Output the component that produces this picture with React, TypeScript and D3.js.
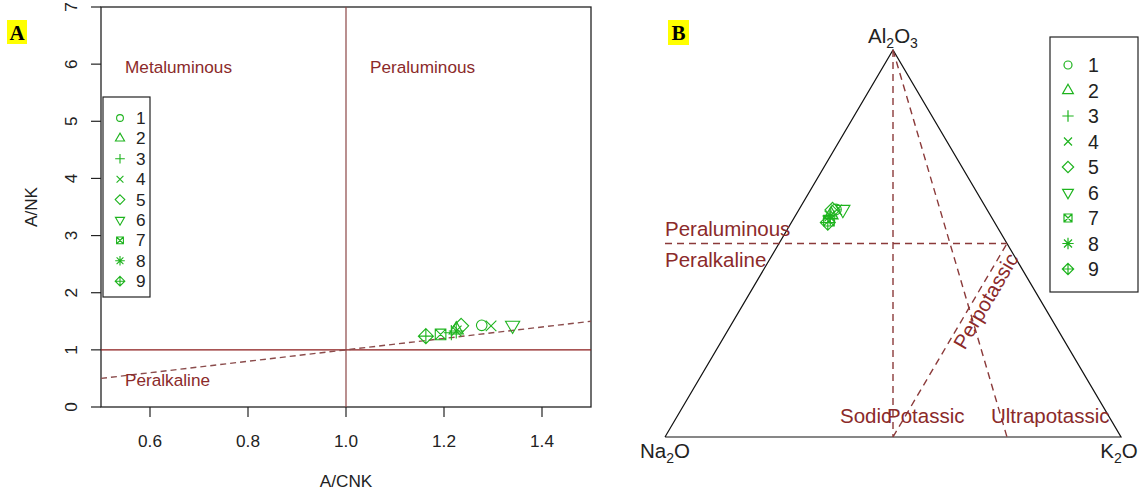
import React from "react";
import * as d3 from "d3";

// ---------- DATA ----------
const sampleIds = [1, 2, 3, 4, 5, 6, 7, 8, 9];
// Panel A: Shand diagram
const acnk = [1.277, 1.225, 1.215, 1.296, 1.235, 1.34, 1.193, 1.225, 1.163];
const ank = [1.43, 1.35, 1.3, 1.42, 1.42, 1.43, 1.27, 1.33, 1.24];
// Panel B: molar ternary proportions
const al2o3 = [0.588, 0.574, 0.565, 0.587, 0.587, 0.588, 0.559, 0.571, 0.554];
const k2o = [0.081, 0.077, 0.08, 0.083, 0.074, 0.096, 0.08, 0.076, 0.08];
const na2o = al2o3.map((a, i) => 1 - a - k2o[i]);

const xTicksA = [0.6, 0.8, 1.0, 1.2, 1.4];
const yTicksA = [0, 1, 2, 3, 4, 5, 6, 7];

const GREEN = "#1DB31D";
const DARKRED = "#8B2A2A";
const FONT = "Liberation Sans, Arial, sans-serif";
const FS_A = 17.2;
const FS_B = 20.5;

function Marker({ pch, x, y, r, color = GREEN, sw = 1.1 }: { pch: number; x: number; y: number; r: number; color?: string; sw?: number }) {
  const s2 = Math.SQRT2 * r;
  const tr = 1.55 * r;
  const common = { fill: "none", stroke: color, strokeWidth: sw };
  const triUp = `M${x},${y - tr}L${x + tr * 0.866},${y + tr / 2}L${x - tr * 0.866},${y + tr / 2}Z`;
  const triDown = `M${x},${y + tr}L${x + tr * 0.866},${y - tr / 2}L${x - tr * 0.866},${y - tr / 2}Z`;
  const plus = (h: number) => `M${x - h},${y}L${x + h},${y}M${x},${y - h}L${x},${y + h}`;
  const cross = (h: number) => `M${x - h},${y - h}L${x + h},${y + h}M${x - h},${y + h}L${x + h},${y - h}`;
  const diamond = (h: number) => `M${x},${y - h}L${x + h},${y}L${x},${y + h}L${x - h},${y}Z`;
  const square = (h: number) => `M${x - h},${y - h}L${x + h},${y - h}L${x + h},${y + h}L${x - h},${y + h}Z`;
  switch (pch) {
    case 1:
      return <circle cx={x} cy={y} r={r} {...common} />;
    case 2:
      return <path d={triUp} {...common} />;
    case 3:
      return <path d={plus(s2)} {...common} />;
    case 4:
      return <path d={cross(r)} {...common} />;
    case 5:
      return <path d={diamond(s2)} {...common} />;
    case 6:
      return <path d={triDown} {...common} />;
    case 7:
      return <path d={square(r) + cross(r)} {...common} />;
    case 8:
      return <path d={cross(r) + plus(s2)} {...common} />;
    case 9:
      return <path d={diamond(s2) + plus(s2)} {...common} />;
    default:
      return null;
  }
}

function PanelA() {
  const x = d3.scaleLinear().domain([0.5, 1.5]).range([101, 591]);
  const y = d3.scaleLinear().domain([0, 7]).range([407, 7]);
  const lineFn = d3.line<number>().x((d) => x(d)).y((d) => y(d));
  return (
    <g fontFamily={FONT}>
      <rect x={x(0.5)} y={y(7)} width={x(1.5) - x(0.5)} height={y(0) - y(7)} fill="none" stroke="#222" strokeWidth={1.3} />
      {xTicksA.map((t) => (
        <g key={t}>
          <line x1={x(t)} x2={x(t)} y1={y(0)} y2={y(0) + 10} stroke="#222" strokeWidth={1.2} />
          <text x={x(t)} y={y(0) + 40} textAnchor="middle" fontSize={FS_A} fill="#222">
            {t.toFixed(1)}
          </text>
        </g>
      ))}
      {yTicksA.map((t) => (
        <g key={t}>
          <line x1={x(0.5) - 10} x2={x(0.5)} y1={y(t)} y2={y(t)} stroke="#222" strokeWidth={1.2} />
          <text transform={`translate(${x(0.5) - 24},${y(t)}) rotate(-90)`} textAnchor="middle" fontSize={FS_A} fill="#222">
            {t}
          </text>
        </g>
      ))}
      <text x={x(1.0)} y={487} textAnchor="middle" fontSize={FS_A} fill="#222">A/CNK</text>
      <text transform={`translate(37,${y(3.5)}) rotate(-90)`} textAnchor="middle" fontSize={FS_A} fill="#222">A/NK</text>

      <line x1={x(0.5)} x2={x(1.5)} y1={y(1)} y2={y(1)} stroke="#8B1A1A" strokeWidth={1.3} />
      <line x1={x(1)} x2={x(1)} y1={y(0)} y2={y(7)} stroke="#8B4545" strokeWidth={1.2} />
      <path d={lineFn([0.5, 1.5]) || ""} stroke="#8B4C4C" strokeWidth={1.4} strokeDasharray="6,4" fill="none" />

      <text x={125} y={73} fontSize={FS_A} fill={DARKRED}>Metaluminous</text>
      <text x={370} y={73} fontSize={FS_A} fill={DARKRED}>Peraluminous</text>
      <text x={125} y={386} fontSize={FS_A} fill={DARKRED}>Peralkaline</text>

      {sampleIds.map((id, i) => (
        <Marker key={id} pch={id} x={x(acnk[i])} y={y(ank[i])} r={5.3} />
      ))}

      <rect x={103} y={97} width={47} height={200} fill="white" stroke="#222" strokeWidth={1.2} />
      {sampleIds.map((id, i) => (
        <g key={id}>
          <Marker pch={id} x={120} y={118 + i * 20.4} r={3.4} />
          <text x={136} y={118 + i * 20.4 + 6} fontSize={FS_A} fill="#222">{id}</text>
        </g>
      ))}

      <rect x={7} y={20} width={20} height={24} fill="#FFFF00" />
      <text x={17} y={40} textAnchor="middle" fontFamily="Liberation Serif, Times New Roman, serif" fontWeight="bold" fontSize={21} fill="#000">A</text>
    </g>
  );
}

function PanelB() {
  // ternary projection: X = K + Al/2 (0..1), Y = Al (0..1)
  const X = d3.scaleLinear().domain([0, 1]).range([665, 1121]);
  const Y = d3.scaleLinear().domain([0, 1]).range([437, 50]);
  const proj = (a: number, k: number): [number, number] => [X(k + a / 2), Y(a)];
  const line = d3.line<[number, number]>().x((d) => X(d[0])).y((d) => Y(d[1]));
  const tri = line([[0, 0], [1, 0], [0.5, 1], [0, 0]]) || "";
  const dashed: [number, number][][] = [
    [[0, 0.5], [0.75, 0.5]],
    [[0.5, 1], [0.5, 0]],
    [[0.5, 1], [0.75, 0]],
    [[0.5, 0], [0.75, 0.5]],
  ];
  const p0 = [X(0.5), Y(0)];
  const p1 = [X(0.75), Y(0.5)];
  const len = Math.hypot(p1[0] - p0[0], p1[1] - p0[1]);
  const dir = [(p1[0] - p0[0]) / len, (p1[1] - p0[1]) / len];
  const perp = [-dir[1], dir[0]];
  const ang = (Math.atan2(dir[1], dir[0]) * 180) / Math.PI;
  const mid = [(p0[0] + p1[0]) / 2, (p0[1] + p1[1]) / 2];
  const tx = mid[0] + 52 * dir[0] + 18 * perp[0];
  const ty = mid[1] + 52 * dir[1] + 18 * perp[1];
  return (
    <g fontFamily={FONT}>
      <path d={tri} fill="none" stroke="#111" strokeWidth={1.2} />
      {dashed.map((seg, i) => (
        <path key={i} d={line(seg) || ""} fill="none" stroke="#8B3A3A" strokeWidth={1.4} strokeDasharray="7,5" />
      ))}
      <text x={X(0.5)} y={43} textAnchor="middle" fontSize={FS_B} fill="#222">
        Al<tspan fontSize={14} dy={5}>2</tspan><tspan dy={-5}>O</tspan><tspan fontSize={14} dy={5}>3</tspan>
      </text>
      <text x={X(0)} y={458} textAnchor="middle" fontSize={FS_B} fill="#222">
        Na<tspan fontSize={14} dy={5}>2</tspan><tspan dy={-5}>O</tspan>
      </text>
      <text x={X(1) - 2} y={458} textAnchor="middle" fontSize={FS_B} fill="#222">
        K<tspan fontSize={14} dy={5}>2</tspan><tspan dy={-5}>O</tspan>
      </text>

      <text x={665} y={236} fontSize={FS_B} fill={DARKRED}>Peraluminous</text>
      <text x={665} y={267} fontSize={FS_B} fill={DARKRED}>Peralkaline</text>
      <text x={840} y={423} fontSize={FS_B} fill={DARKRED}>Sodic</text>
      <text x={887} y={423} fontSize={FS_B} fill={DARKRED}>Potassic</text>
      <text x={991} y={423} fontSize={FS_B} fill={DARKRED}>Ultrapotassic</text>
      <text transform={`translate(${tx},${ty}) rotate(${ang})`} textAnchor="middle" fontSize={FS_B} fill={DARKRED}>
        Perpotassic
      </text>

      {sampleIds.map((id, i) => {
        const [px, py] = proj(al2o3[i], k2o[i]);
        return <Marker key={id} pch={id} x={px} y={py} r={5.3} />;
      })}

      <rect x={1050} y={37} width={88} height={255} fill="white" stroke="#222" strokeWidth={1.2} />
      {sampleIds.map((id, i) => (
        <g key={id}>
          <Marker pch={id} x={1068} y={65 + i * 25.5} r={4} sw={1.2} />
          <text x={1088} y={65 + i * 25.5 + 7} fontSize={19.5} fill="#222">{id}</text>
        </g>
      ))}

      <rect x={668} y={20} width={21} height={25} fill="#FFFF00" />
      <text x={678.5} y={40} textAnchor="middle" fontFamily="Liberation Serif, Times New Roman, serif" fontWeight="bold" fontSize={21} fill="#000">B</text>
    </g>
  );
}

export default function App() {
  return (
    <svg width={1144} height={490} style={{ position: "absolute", left: 0, top: 0, background: "white" }}>
      <rect width={1144} height={490} fill="white" />
      <PanelA />
      <PanelB />
    </svg>
  );
}
